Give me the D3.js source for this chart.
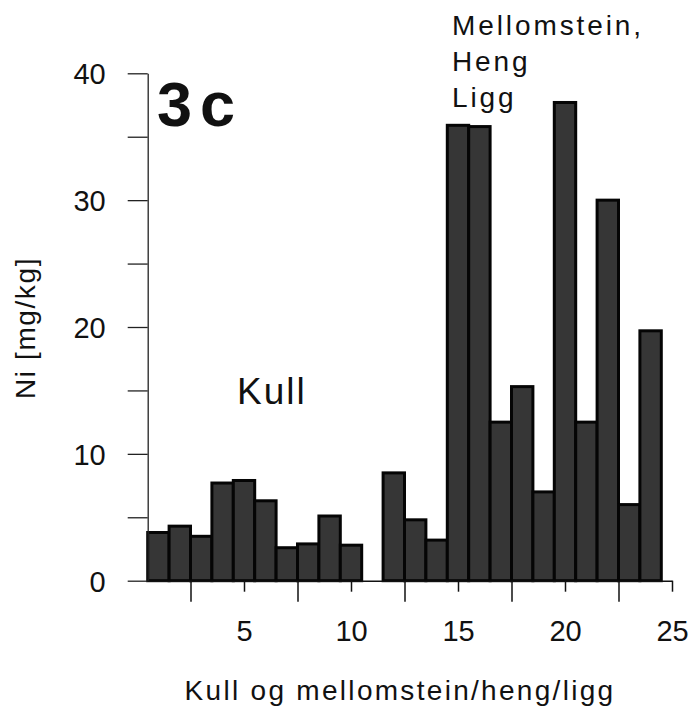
<!DOCTYPE html>
<html><head><meta charset="utf-8">
<script src="https://cdn.jsdelivr.net/npm/d3@7"></script>
<style>
html,body{margin:0;padding:0;background:#fff;}
svg{display:block;font-family:"Liberation Sans",Arial,Helvetica,sans-serif;}
</style></head>
<body>
<svg id="chart" width="689" height="709"></svg>
<script>
// Data
const sampleIds = [1,2,3,4,5,6,7,8,9,10,12,13,14,15,16,17,18,19,20,21,22,23,24];
const niValues  = [3.8,4.3,3.5,7.7,7.9,6.3,2.6,2.9,5.1,2.8,8.5,4.8,3.2,35.9,35.8,12.5,15.3,7.0,37.7,12.5,30.0,6.0,19.7];
const xLabelTicks = [5,10,15,20,25];
const xMinorTicks = [2.5,7.5,12.5,17.5,22.5];
const yTicks = [0,10,20,30,40];
const yMinorTicks = [5,15,25,35];
const xTitle = "Kull og mellomstein/heng/ligg";
const yTitle = "Ni [mg/kg]";
const panelLabel = "3c";
const groupLabel1 = ["Kull"];
const groupLabel2 = ["Mellomstein,","Heng","Ligg"];

const svg = d3.select("#chart");
const x = d3.scaleLinear().domain([0.5,25]).range([147.7,672]);
const y = d3.scaleLinear().domain([0,40]).range([580.7,73.3]);

// bars
svg.append("g").selectAll("rect").data(sampleIds.map((id,i)=>({id,v:niValues[i]})))
  .join("rect")
  .attr("x", d=>x(d.id-0.5))
  .attr("width", d=>x(d.id+0.5)-x(d.id-0.5))
  .attr("y", d=>y(d.v))
  .attr("height", d=>y(0)-y(d.v))
  .attr("fill","#363636")
  .attr("stroke","#050505")
  .attr("stroke-width",3);

// y axis
const yAxis = d3.axisLeft(y).tickValues(yTicks.concat(yMinorTicks)).tickSize(20).tickSizeOuter(0)
  .tickFormat(d=> yTicks.includes(d) ? d : "");
const gy = svg.append("g").attr("transform",`translate(${x(0.5)},0)`).call(yAxis);
gy.select(".domain").attr("stroke","#222").attr("stroke-width",1.3);
gy.selectAll(".tick line").attr("stroke","#222").attr("stroke-width",1.3);
gy.selectAll(".tick text").attr("font-size",29).attr("fill","#111").attr("x",-42)
  .attr("font-family","Liberation Sans, Arial, sans-serif").attr("dy","0.36em");

// x axis
const xAxis = d3.axisBottom(x).tickValues(xLabelTicks).tickSize(11).tickSizeOuter(0);
const gx = svg.append("g").attr("transform",`translate(0,${y(0)})`).call(xAxis);
gx.select(".domain").attr("stroke","#111").attr("stroke-width",1.6);
gx.selectAll(".tick line").attr("stroke","#111").attr("stroke-width",1.5);
gx.selectAll(".tick text").attr("font-size",29).attr("fill","#111").attr("y",40).attr("dy","0.71em")
  .attr("font-family","Liberation Sans, Arial, sans-serif");
const xAxis2 = d3.axisBottom(x).tickValues(xMinorTicks).tickSize(21).tickSizeOuter(0).tickFormat("");
const gx2 = svg.append("g").attr("transform",`translate(0,${y(0)})`).call(xAxis2);
gx2.select(".domain").remove();
gx2.selectAll(".tick line").attr("stroke","#111").attr("stroke-width",1.5);

// titles
svg.append("text").attr("x",400).attr("y",700).attr("text-anchor","middle")
  .attr("font-size",28).attr("letter-spacing","2.3px").attr("fill","#111").text(xTitle);
svg.append("text").attr("transform","translate(35,328) rotate(-90)").attr("text-anchor","middle")
  .attr("font-size",28).attr("letter-spacing","1.6px").attr("fill","#111").text(yTitle);

svg.append("text").attr("x",157).attr("y",126).attr("font-size",63).attr("font-weight","bold")
  .attr("letter-spacing","8px").attr("fill","#111").text(panelLabel);

svg.append("text").attr("x",237).attr("y",404).attr("font-size",37).attr("letter-spacing","2px")
  .attr("fill","#111").text(groupLabel1[0]);

svg.append("g").selectAll("text").data(groupLabel2).join("text")
  .attr("x",452).attr("y",(d,i)=>35+i*36).attr("font-size",28).attr("letter-spacing","2.9px")
  .attr("fill","#111").text(d=>d);
</script>
</body></html>
